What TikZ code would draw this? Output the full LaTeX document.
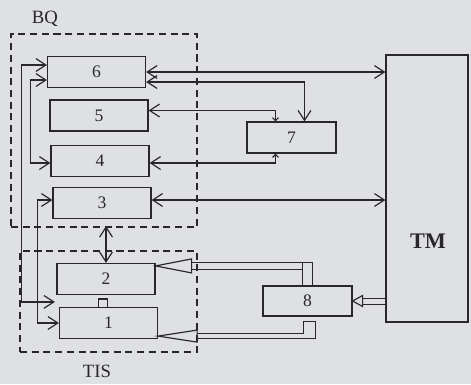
\documentclass[tikz,border=0pt]{standalone}
\usepackage{fontspec}
\setmainfont{Liberation Serif}
\usetikzlibrary{arrows.meta, positioning, calc, fit}
\definecolor{paper}{RGB}{222,224,228}
\definecolor{ink}{RGB}{40,40,40}

\begin{document}
\begin{tikzpicture}[
        x=0.03cm, y=-0.03cm,
        >={Straight Barb[length=8.5pt, width=11pt]},
        sbarb/.tip={Straight Barb[length=2.5pt, width=5pt]},
        blk/.style={draw=ink, line width=1pt, minimum width=2.94cm, minimum height=0.93cm, inner sep=0pt, text=ink, font=\fontsize{15}{18}\selectfont},
        sidebox/.style={blk, minimum width=2.67cm},
        frame/.style={draw=ink, line width=0.9pt, dash pattern=on 6pt off 4pt, inner sep=0pt},
        link/.style={draw=ink, line width=1pt},
        tube/.style={draw=ink, line width=0.8pt},
        lbl/.style={font=\fontsize{16}{19}\selectfont, text=ink}
    ]
    \fill[paper] (0,0) rectangle (471,384);
    \useasboundingbox (0,0) rectangle (471,384);
    % units
    \node[blk] (n6) at (96.5,72) {6};
    \node[blk] (n5) at (99,115.5) {5};
    \node[blk] (n4) at (100,161) {4};
    \node[blk] (n3) at (102,203) {3};
    \node[blk] (n2) at (106,279) {2};
    \node[blk] (n1) at (108.5,323) {1};
    \node[sidebox] (n7) at (291.5,137.5) {7};
    \node[sidebox, minimum height=0.9cm] (n8) at (307.5,301) {8};
    \node[blk, minimum width=2.46cm, minimum height=8.01cm] (tm) at (427,188.5) {};
    \node[text=ink, font=\bfseries\fontsize{19}{22}\selectfont] (tmlbl) at (428,241) {TM};
    % groups
    \node[frame, fit={(11,34) (197,227)}] (bq) {};
    \node[frame, fit={(20,251) (197,352)}] (tis) {};
    \node[lbl] (bqlbl) at (45,19) {BQ};
    \node[lbl] (tislbl) at (97,371) {TIS};
    % left buses
    \coordinate (j12) at ($(n1.north west)+(-4,-5)$);
    \draw[link, <->] ($(n6.west)+(0,-7)$) -- ++(-25,0) |- (j12);
    \draw[link, <->] ($(n6.west)+(0,8)$) -- ++(-16,0) |- ($(n4.west)+(0,2)$);
    \draw[link, <->] ($(n3.west)+(0,-3)$) -- ++(-15,0) |- (n1.west);
    % right side
    \draw[link, <->] (n6.east) -- (n6.east -| tm.west);
    \draw[link, <->] ($(n6.east)+(0,10)$) -| ($(n7.north)+(13,0)$);
    \draw[link, <-sbarb] ($(n5.east)+(0,-5)$) -| ($(n7.north)+(-16,0)$);
    \draw[link, <-sbarb] ($(n4.east)+(0,2)$) -| ($(n7.south)+(-16,0)$);
    \coordinate (a3) at ($(n3.east)+(0,-3)$);
    \draw[link, <->] (a3) -- (a3 -| tm.west);
    \draw[link, <->, shorten <=0.21cm] (n2.north |- n3.south) -- (n2.north);
    \draw[link] ($(n1.north)+(-10,0)$) -- ++(0,-8) -- ++(9,0) -- ++(0,8);
    % tube 8 -> 2
    \coordinate (t2) at ($(n2.north east)+(0,3)$);
    \coordinate (b2) at ($(t2)+(36,0)$);
    \coordinate (s2) at ($(n8.north)+(-5,0)$);
    \coordinate (p2b) at ($(b2)+(0,3.5)$);
    \draw[link] (t2) -- ($(b2)+(0,-7)$) -- ($(b2)+(0,7)$) -- cycle;
    \draw[tube] ($(n8.north)+(5,0)$) |- ($(b2)+(0,-3.5)$);
    \draw[tube] (s2) |- ($(b2)+(0,-3.5)$);
    \draw[tube] (p2b) -- (p2b -| s2);
    % tube 8 -> 1
    \coordinate (t1) at ($(n1.south east)+(0,-3)$);
    \coordinate (b1) at ($(t1)+(39,0)$);
    \draw[link] (t1) -- ($(b1)+(0,-6)$) -- ($(b1)+(0,6)$) -- cycle;
    \draw[tube] ($(b1)+(0,-2.75)$) -| ($(n8.south)+(-4.5,5)$) -- ($(n8.south)+(7.5,5)$) |- ($(b1)+(0,2.75)$);
    % tube TM -> 8
    \coordinate (t8) at (n8.east);
    \coordinate (b8) at ($(t8)+(10,0)$);
    \coordinate (p8a) at ($(b8)+(0,-3)$);
    \coordinate (p8b) at ($(b8)+(0,3)$);
    \draw[link] (t8) -- ($(b8)+(0,-5.5)$) -- ($(b8)+(0,5.5)$) -- cycle;
    \draw[tube] (p8a) -- (p8a -| tm.west);
    \draw[tube] (p8b) -- (p8b -| tm.west);
\end{tikzpicture}
\end{document}
